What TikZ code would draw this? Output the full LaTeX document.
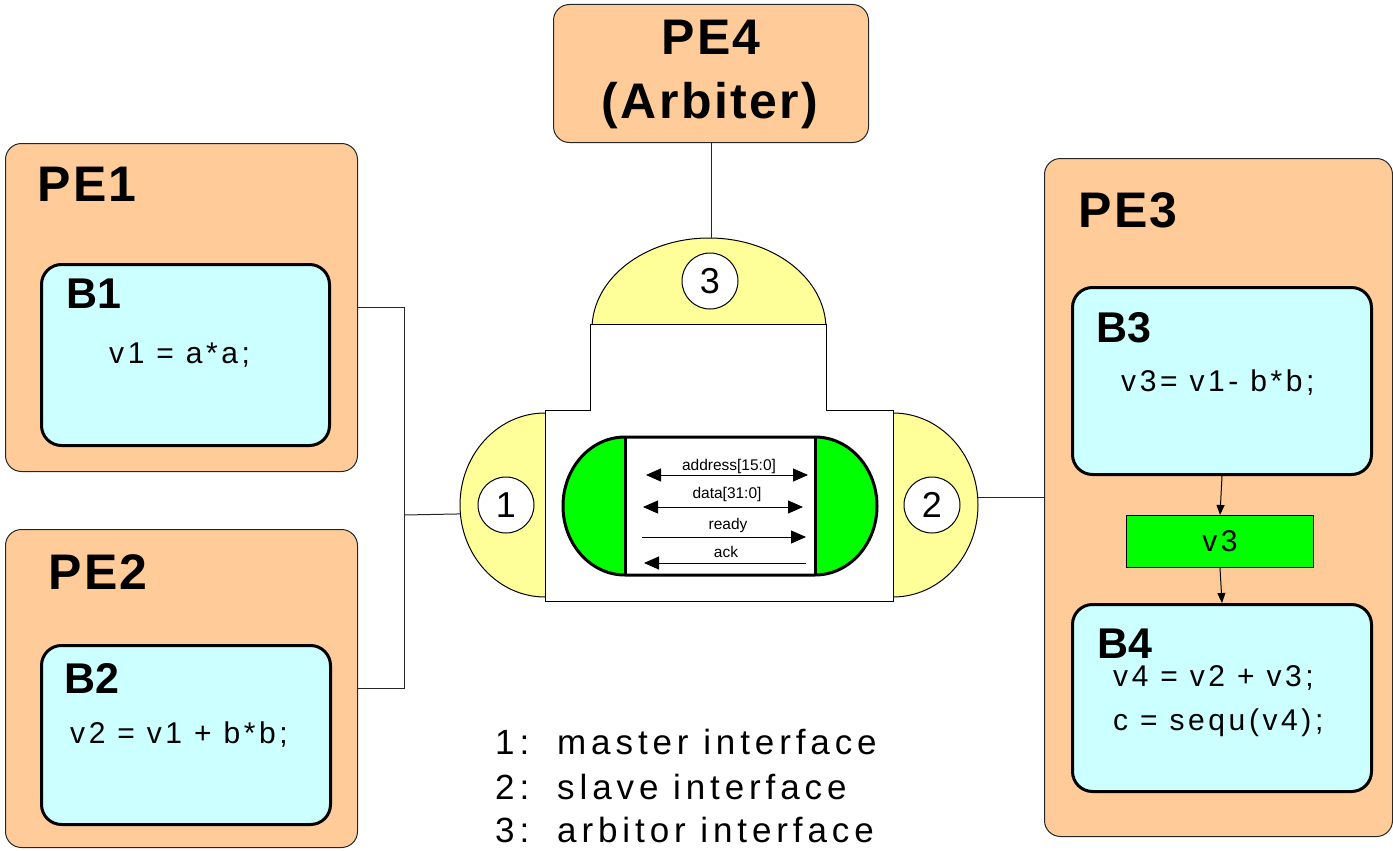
\documentclass[tikz,border=0pt]{standalone}
\usepackage{fontspec}
\setmainfont{Liberation Sans}
\newfontfamily\lsfont[LetterSpace=12]{Liberation Sans}
\newfontfamily\lgfont[LetterSpace=14]{Liberation Sans}
\newfontfamily\bigfont[LetterSpace=5]{Liberation Sans}
\usetikzlibrary{arrows.meta,shapes.geometric}
\definecolor{peach}{HTML}{FFCC99}
\definecolor{lcyan}{HTML}{CCFFFF}
\definecolor{lyel}{HTML}{FFFF99}
\definecolor{lgreen}{HTML}{00FF00}
\tikzset{
  pebox/.style={draw=black!85, fill=peach, line width=1pt, rounded corners=16pt, inner sep=0pt, anchor=north west},
  blkbox/.style={draw=black, fill=lcyan, line width=3pt, rounded corners=20pt, inner sep=0pt, anchor=north west},
  pelabel/.style={anchor=base west, inner sep=0pt, font={\bigfont\bfseries\fontsize{50}{56}\selectfont}},
  blabel/.style={anchor=base west, inner sep=0pt, font={\bfseries\fontsize{43}{50}\selectfont}},
  code/.style={anchor=base west, inner sep=0pt, font={\lsfont\fontsize{30}{36}\selectfont}},
  legend/.style={anchor=base west, inner sep=0pt, font={\lgfont\fontsize{35}{40}\selectfont}},
  busl/.style={anchor=base, inner sep=0pt, font={\fontsize{15.5}{18}\selectfont}},
  port/.style={circle, draw=black, fill=white, line width=1pt, minimum size=56pt, inner sep=0pt, font={\fontsize{36}{40}\selectfont}},
  yel/.style={ellipse, draw=black, fill=lyel, line width=1pt, inner sep=0pt},
  wire/.style={draw=black!85, line width=1pt},
  sig/.style={line width=1pt},
  tip/.tip={Triangle[length=15pt,width=13pt]},
  smalltip/.tip={Triangle[length=10pt,width=8pt]}
}
\begin{document}
\begin{tikzpicture}[x=1pt,y=-1pt]
\useasboundingbox (0,0) rectangle (1393,851);

% processing elements
\node[pebox, minimum width=352pt, minimum height=328pt] (pe1) at (5,143) {};
\node[blkbox, minimum width=288pt, minimum height=181pt] (b1) at (40,263) {};
\node[pelabel] (pe1l) at (37,201) {PE1};
\node[blabel] (b1l) at (66,308) {B1};
\node[code] (b1c) at (109,363) {v1 = a*a;};

\node[pebox, minimum width=352pt, minimum height=318pt] (pe2) at (5,529) {};
\node[blkbox, minimum width=289pt, minimum height=179pt] (b2) at (40,644) {};
\node[pelabel] (pe2l) at (48,589) {PE2};
\node[blabel] (b2l) at (64,693) {B2};
\node[code] (b2c) at (70,743) {v2 = v1 + b*b;};

\node[pebox, minimum width=348pt, minimum height=678pt] (pe3) at (1044,158) {};
\node[blkbox, minimum width=299pt, minimum height=187pt] (b3) at (1071,286) {};
\node[draw=black, fill=lgreen, line width=1pt, minimum width=187pt, minimum height=52pt, inner sep=0pt, anchor=north west,
      font={\lsfont\fontsize{30}{36}\selectfont}] (v3) at (1126,515) {v3};
\node[blkbox, minimum width=299pt, minimum height=187pt] (b4) at (1071,603) {};
\node[pelabel] (pe3l) at (1078,227) {PE3};
\node[blabel] (b3l) at (1096,342) {B3};
\node[code] (b3c) at (1121,391) {v3= v1- b*b;};
\node[blabel] (b4l) at (1097,658) {B4};
\node[code] (b4c1) at (1113,686) {v4 = v2 + v3;};
\node[code] (b4c2) at (1113,730) {c = sequ(v4);};
\draw[sig, -smalltip] (b3.south) -- (v3.north);
\draw[sig, -smalltip] (v3.south) -- (b4.north);

\node[pebox, minimum width=315pt, minimum height=138pt] (pe4) at (553,4) {};
\node[pelabel, anchor=base] (pe4l1) at (711,55) {PE4};
\node[pelabel, anchor=base] (pe4l2) at (710,118) {(Arbiter)};

% bus interfaces
\node[yel, minimum width=234pt, minimum height=182pt] (y3) at (709,329) {};
\node[yel, minimum width=170pt, minimum height=184pt] (y1) at (545,505) {};
\node[yel, minimum width=170pt, minimum height=184pt] (y2) at (893,505) {};
\draw[fill=white, line width=1pt] (590,324) -- (826,324) -- (826,410) -- (893,410) -- (893,601)
  -- (545,601) -- (545,410) -- (590,410) -- cycle;
\node[port] (p3) at (710,281) {3};
\node[port] (p1) at (506,505) {1};
\node[port] (p2) at (932,505) {2};

% channel
\fill[lgreen] (625,437) -- (815,437) arc[start angle=-90, end angle=90, x radius=62, y radius=69]
  -- (625,575) arc[start angle=90, end angle=270, x radius=62, y radius=69] -- cycle;
\fill[white] (625,437) rectangle (815,575);
\draw[line width=3pt] (625,437) -- (815,437) arc[start angle=-90, end angle=90, x radius=62, y radius=69]
  -- (625,575) arc[start angle=90, end angle=270, x radius=62, y radius=69] -- cycle;
\draw[line width=3pt] (625,437) -- (625,575);
\draw[line width=3pt] (815,437) -- (815,575);

\coordinate (adL) at (646,475); \coordinate (adR) at (808,475);
\coordinate (daL) at (643,507); \coordinate (daR) at (803,507);
\coordinate (rdL) at (642,537); \coordinate (rdR) at (806,537);
\coordinate (akL) at (644,563); \coordinate (akR) at (806,563);
\draw[sig, tip-tip] (adL) -- (adR);
\draw[sig, tip-tip] (daL) -- (daR);
\draw[sig, -tip] (rdL) -- (rdR);
\draw[sig, -tip] (akR) -- (akL);
\node[busl] (adl) at (729,470) {address[15:0]};
\node[busl] (dal) at (727,498) {data[31:0]};
\node[busl] (rdl) at (728,529) {ready};
\node[busl] (akl) at (726,557) {ack};

% connectors
\coordinate (j) at (404,515);
\draw[wire] (pe1.east) -| (j);
\draw[wire] (pe2.east) -| (j);
\draw[wire] (j) -- (y1.186);
\draw[wire] (y2.5) -- (y2.5 -| pe3.west);
\draw[wire] (pe4.south) -- (pe4.south |- y3.north);

% legend
\node[legend] (lg1) at (495,754) {\makebox[62pt][l]{1:}master interface};
\node[legend] (lg2) at (495,799) {\makebox[62pt][l]{2:}slave interface};
\node[legend] (lg3) at (495,842) {\makebox[62pt][l]{3:}arbitor interface};
\end{tikzpicture}
\end{document}
